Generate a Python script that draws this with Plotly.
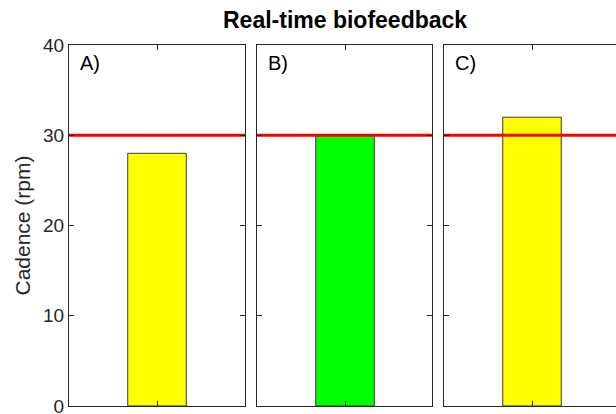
import plotly.graph_objects as go

panels = ["A)", "B)", "C)"]
values = [28, 30, 32]
colors = ["#FFFF00", "#00FF00", "#FFFF00"]
threshold = 30
y_ticks = [0, 10, 20, 30, 40]

W, H = 616, 414
FONT = "Liberation Sans, Arial, sans-serif"
AX = "#262626"

xdoms = [(69 / W, 245 / W), (257 / W, 432 / W), (444 / W, 1.0)]
ydom = ((H - 406) / H, (H - 45) / H)

fig = go.Figure()
for i, (lab, v, c) in enumerate(zip(panels, values, colors)):
    n = "" if i == 0 else str(i + 1)
    xa, ya = "x" + n, "y" + n
    fig.add_trace(go.Bar(x=[1], y=[v], width=0.665, marker=dict(color=c, line=dict(color="#3a3a3a", width=1)),
                         xaxis=xa, yaxis=ya, showlegend=False, hoverinfo="skip"))
    fig.add_trace(go.Scatter(x=[0, 2], y=[threshold, threshold], mode="lines",
                             line=dict(color="#FF0000", width=3), xaxis=xa, yaxis=ya, showlegend=False,
                             hoverinfo="skip"))
    d0, d1 = xdoms[i]
    width_px = (d1 - d0) * W
    xmax = 2 * width_px / 176.0
    fig.update_layout(**{
        ("xaxis" + n): dict(domain=[d0, d1], range=[0, xmax], showline=True, mirror="allticks", linecolor=AX,
                            linewidth=1, ticks="inside", ticklen=5, tickcolor=AX, tickvals=[1], showticklabels=False,
                            showgrid=False, zeroline=False, fixedrange=True, anchor=ya, automargin=False),
        ("yaxis" + n): dict(domain=list(ydom), range=[0, 40], showline=True,
                            mirror=("allticks" if i < 2 else False), linecolor=AX, linewidth=1,
                            ticks="inside", ticklen=5, tickcolor=AX, tickvals=y_ticks,
                            showticklabels=(i == 0), tickfont=dict(family=FONT, size=19, color=AX),
                            ticklabeloverflow="allow",
                            showgrid=False, zeroline=False, fixedrange=True, anchor=xa, automargin=False,
                            title=dict(text="Cadence (rpm)", font=dict(family=FONT, size=21, color=AX), standoff=6) if i == 0 else None),
    })
    fig.add_annotation(text=lab, xref=xa + " domain", yref=ya + " domain", x=0, y=1, xshift=9, yshift=-5,
                       xanchor="left", yanchor="top", showarrow=False, font=dict(family=FONT, size=20, color="#000"))

fig.add_annotation(text="<b>Real-time biofeedback</b>", xref="paper", yref="paper",
                   x=(xdoms[1][0] + xdoms[1][1]) / 2, y=1, yshift=-20, xanchor="center", yanchor="middle",
                   showarrow=False, font=dict(family=FONT, size=23, color="#000"))

fig.update_layout(width=W, height=H, margin=dict(l=0, r=0, t=0, b=0, pad=0, autoexpand=False),
                  plot_bgcolor="white", paper_bgcolor="white", bargap=0, hovermode=False)
fig.write_html("out.html", config={"displayModeBar": False, "staticPlot": True},
               post_script="document.body.style.margin='0';document.body.style.padding='0';document.documentElement.style.overflow='hidden';")
